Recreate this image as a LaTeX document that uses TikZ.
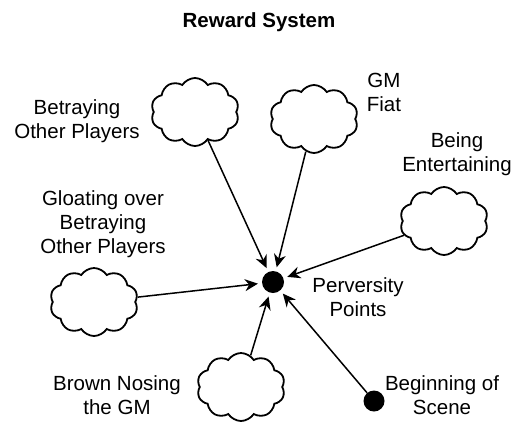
\documentclass[tikz,border=0pt]{standalone}
\usepackage{fontspec}
\setmainfont{Liberation Sans}
\usetikzlibrary{shapes.symbols,arrows.meta}
\begin{document}
\begin{tikzpicture}[x=1pt,y=-1pt,font=\fontsize{20.5}{24}\selectfont,
  puff/.style={draw,line width=1.8pt,cloud,cloud puffs=10,cloud puff arc=115,aspect=1.3,minimum width=88pt,minimum height=68pt,inner sep=0pt},
  lbl/.style={align=center,inner sep=0pt},
  feed/.style={line width=1.5pt,-{Stealth[length=13pt,width=12pt]},shorten >=4pt}]
\useasboundingbox (0,0) rectangle (518,421);
\node[inner sep=0pt,font=\fontsize{20.5}{24}\bfseries\selectfont] (title) at (259,22) {Reward System};
\node[circle,fill=black,minimum size=22pt,inner sep=0pt] (pp) at (273,282) {};
\node[lbl] (ppname) at (358,297) {Perversity\\Points};
\node[puff] (betray) at (195,112) {};
\node[lbl] (betrayname) at (77,121) {Betraying\\Other Players};
\node[puff] (fiat) at (314,119) {};
\node[lbl] (fiatname) at (384,92) {GM\\Fiat};
\node[puff] (fun) at (444,221) {};
\node[lbl] (funname) at (457,154) {Being\\Entertaining};
\node[puff] (gloat) at (94,302) {};
\node[lbl] (gloatname) at (103,224) {Gloating over\\Betraying\\Other Players};
\node[puff] (nose) at (241,387) {};
\node[lbl] (nosename) at (117,395) {Brown Nosing\\the GM};
\node[circle,fill=black,minimum size=21pt,inner sep=0pt] (scene) at (374,401) {};
\node[lbl] (scenename) at (442,395) {Beginning of\\Scene};
\draw[feed] (betray) -- (pp);
\draw[feed] (fiat) -- (pp);
\draw[feed] (fun) -- (pp);
\draw[feed] (gloat) -- (pp);
\draw[feed] (nose) -- (pp);
\draw[feed] (scene) -- (pp);
\end{tikzpicture}
\end{document}
